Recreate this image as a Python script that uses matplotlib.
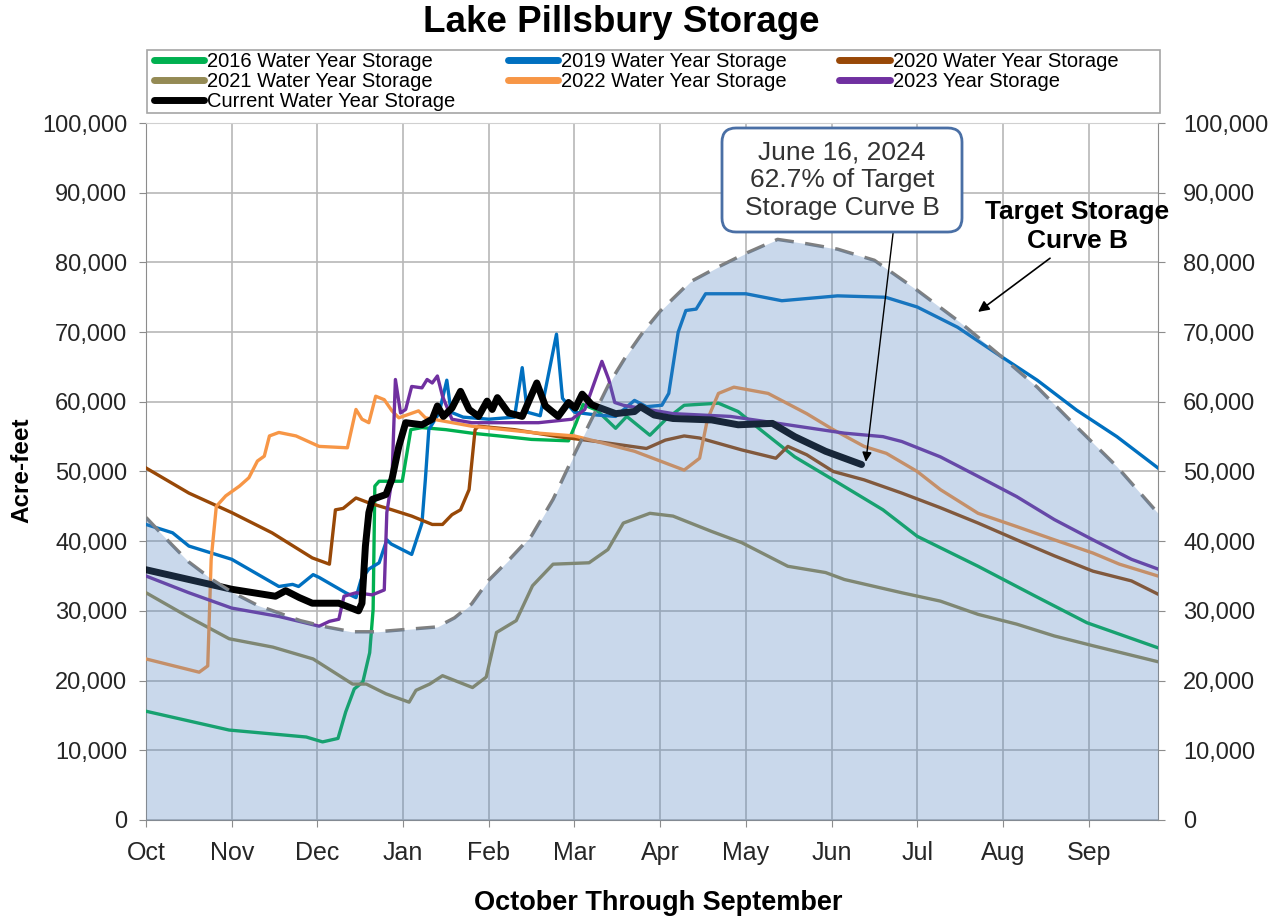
import matplotlib
matplotlib.use('Agg')
import matplotlib.pyplot as plt
from matplotlib.ticker import FuncFormatter, MultipleLocator
from matplotlib.patches import FancyBboxPatch, Rectangle

plt.rcParams['font.family'] = ['Liberation Sans', 'DejaVu Sans']

# x = months since Oct 1 (month ticks are evenly spaced), y = thousands of acre-feet
months = ['Oct', 'Nov', 'Dec', 'Jan', 'Feb', 'Mar', 'Apr', 'May', 'Jun', 'Jul', 'Aug', 'Sep']

target_x = [0, 0.3, 0.5, 0.77, 1.0, 1.3, 1.55, 1.8, 2.1, 2.4, 2.7, 3.0, 3.4, 3.6, 3.8, 4.0,
            4.25, 4.5, 4.75, 5.0, 5.2, 5.4, 5.6, 5.8, 6.0, 6.35, 6.67, 7.0, 7.37, 7.7, 8.07,
            8.5, 9.0, 9.5, 10.0, 10.4, 10.86, 11.33, 11.81]
target_y = [43.4, 39.5, 37.0, 34.5, 32.7, 30.8, 29.7, 28.6, 27.7, 27.0, 27.0, 27.3, 27.7, 29.0,
            31.0, 34.4, 37.5, 40.8, 46.0, 52.5, 57.5, 62.5, 66.5, 70.0, 73.0, 77.2, 79.3, 81.3,
            83.3, 82.7, 81.9, 80.3, 76.0, 71.4, 66.3, 62.1, 56.4, 50.7, 44.0]

wy2016_x = [0, 0.97, 1.87, 2.06, 2.24, 2.33, 2.43, 2.53, 2.61, 2.65, 2.67, 2.72, 2.99, 3.09,
            3.22, 3.5, 3.8, 4.2, 4.5, 4.93, 5.02, 5.1, 5.26, 5.48, 5.61, 5.88, 6.06, 6.28, 6.68,
            6.91, 7.17, 7.57, 8.02, 8.6, 9.0, 9.71, 10.38, 10.98, 11.81]
wy2016_y = [15.6, 12.9, 11.9, 11.2, 11.7, 15.5, 18.8, 19.8, 24.0, 30.2, 47.9, 48.6, 48.6, 56.0,
            56.3, 56.0, 55.5, 55.0, 54.6, 54.4, 57.0, 59.6, 58.8, 56.2, 57.9, 55.2, 57.4, 59.5,
            59.8, 58.6, 56.0, 52.1, 48.8, 44.5, 40.7, 36.4, 32.1, 28.3, 24.7]

wy2019_x = [0, 0.31, 0.5, 1.0, 1.55, 1.71, 1.78, 1.95, 2.02, 2.33, 2.45, 2.51, 2.6, 2.72, 2.81,
            2.86, 3.1, 3.22, 3.26, 3.3, 3.42, 3.51, 3.56, 3.7, 4.0, 4.3, 4.39, 4.45, 4.6, 4.79,
            4.86, 5.0, 5.26, 5.48, 5.7, 5.84, 6.02, 6.1, 6.21, 6.3, 6.42, 6.53, 7.0, 7.42, 8.07,
            8.63, 9.0, 9.47, 9.93, 10.4, 10.86, 11.33, 11.81]
wy2019_y = [42.4, 41.2, 39.3, 37.4, 33.5, 33.8, 33.5, 35.2, 34.8, 32.6, 31.9, 34.5, 36.0, 36.9,
            40.2, 39.6, 38.1, 42.6, 48.9, 56.0, 58.4, 63.1, 58.5, 57.8, 57.5, 57.8, 64.9, 58.5,
            58.0, 69.7, 60.5, 58.5, 58.1, 57.9, 60.2, 59.3, 59.5, 61.2, 70.0, 73.1, 73.3, 75.5,
            75.5, 74.5, 75.2, 75.0, 73.6, 70.7, 66.9, 63.1, 58.8, 55.0, 50.5]

wy2020_x = [0, 0.5, 1.0, 1.47, 1.94, 2.14, 2.21, 2.3, 2.45, 2.6, 2.87, 3.1, 3.34, 3.46, 3.57,
            3.67, 3.77, 3.84, 3.88, 4.3, 4.81, 5.26, 5.84, 6.06, 6.28, 6.46, 6.95, 7.35, 7.49,
            7.71, 8.02, 8.38, 8.82, 9.27, 9.71, 10.16, 10.6, 11.05, 11.5, 11.81]
wy2020_y = [50.5, 46.9, 44.1, 41.2, 37.6, 36.7, 44.5, 44.7, 46.2, 45.5, 44.5, 43.6, 42.4, 42.4,
            43.8, 44.5, 47.4, 56.0, 56.5, 56.0, 55.0, 54.3, 53.3, 54.5, 55.1, 54.8, 53.1, 51.9,
            53.6, 52.4, 50.0, 48.8, 46.9, 44.8, 42.6, 40.2, 37.9, 35.7, 34.3, 32.4]

wy2021_x = [0, 0.47, 0.97, 1.48, 1.95, 2.41, 2.57, 2.8, 3.07, 3.15, 3.31, 3.46, 3.81, 3.97,
            4.09, 4.32, 4.51, 4.75, 5.17, 5.39, 5.57, 5.88, 6.15, 6.6, 6.95, 7.49, 7.93, 8.15,
            8.82, 9.27, 9.71, 10.16, 10.6, 11.05, 11.81]
wy2021_y = [32.6, 29.3, 26.0, 24.8, 23.1, 19.5, 19.5, 18.1, 16.9, 18.6, 19.5, 20.7, 19.0, 20.5,
            26.9, 28.6, 33.6, 36.7, 36.9, 38.8, 42.6, 44.0, 43.6, 41.4, 39.8, 36.4, 35.5, 34.5,
            32.6, 31.4, 29.5, 28.1, 26.4, 25.0, 22.7]

wy2022_x = [0, 0.62, 0.72, 0.76, 0.82, 0.93, 1.09, 1.2, 1.3, 1.38, 1.44, 1.55, 1.75, 2.02, 2.35,
            2.45, 2.52, 2.6, 2.68, 2.78, 2.87, 2.95, 3.18, 3.26, 3.8, 4.58, 5.0, 5.26, 5.7, 6.28,
            6.46, 6.55, 6.68, 6.86, 7.26, 7.71, 8.02, 8.38, 8.64, 9.0, 9.27, 9.71, 10.16, 10.6,
            11.05, 11.36, 11.81]
wy2022_y = [23.1, 21.2, 22.1, 37.4, 45.0, 46.5, 47.9, 49.1, 51.5, 52.2, 55.1, 55.6, 55.1, 53.6,
            53.4, 58.9, 57.5, 57.0, 60.8, 60.3, 58.7, 57.7, 58.7, 57.7, 56.5, 55.5, 55.1, 54.3,
            52.9, 50.2, 51.9, 57.4, 61.2, 62.1, 61.2, 58.3, 56.0, 53.6, 52.6, 50.0, 47.4, 44.0,
            42.1, 40.2, 38.3, 36.7, 35.0]

wy2023_x = [0, 0.5, 1.0, 1.55, 2.02, 2.14, 2.25, 2.31, 2.45, 2.64, 2.78, 2.81, 2.87, 2.91, 2.97,
            3.03, 3.1, 3.22, 3.28, 3.34, 3.4, 3.46, 3.57, 3.8, 4.58, 4.97, 5.12, 5.32, 5.4, 5.47,
            5.57, 6.15, 6.82, 7.49, 8.15, 8.6, 8.82, 9.27, 9.71, 10.16, 10.6, 11.05, 11.5, 11.81]
wy2023_y = [35.0, 32.6, 30.4, 29.2, 27.8, 28.5, 28.8, 32.1, 32.6, 32.3, 33.0, 44.1, 48.9, 63.2,
            58.4, 58.9, 62.2, 62.0, 63.2, 62.7, 63.7, 60.8, 57.5, 57.0, 57.0, 57.5, 58.9, 65.8,
            63.2, 59.9, 59.5, 58.3, 57.9, 56.7, 55.5, 55.0, 54.3, 52.1, 49.3, 46.4, 43.1, 40.2,
            37.4, 36.0]

current_x = [0, 0.5, 1.0, 1.51, 1.63, 1.79, 1.94, 2.25, 2.48, 2.52, 2.56, 2.6, 2.64, 2.8, 2.87,
             2.95, 3.03, 3.22, 3.34, 3.4, 3.47, 3.57, 3.67, 3.77, 3.88, 3.98, 4.04, 4.1, 4.23,
             4.39, 4.56, 4.66, 4.81, 4.93, 5.01, 5.09, 5.2, 5.26, 5.48, 5.7, 5.77, 5.93, 6.15,
             6.6, 6.91, 7.31, 7.57, 7.93, 8.35]
current_y = [35.9, 34.5, 33.1, 32.1, 32.9, 31.9, 31.1, 31.1, 30.0, 31.1, 39.3, 44.1, 46.0, 46.7,
             48.9, 53.6, 57.0, 56.7, 57.5, 59.4, 57.9, 59.1, 61.5, 58.9, 57.9, 60.1, 58.9, 60.6,
             58.4, 57.9, 62.7, 59.4, 57.9, 59.9, 59.1, 61.1, 59.6, 59.3, 58.3, 58.6, 59.3, 58.1,
             57.6, 57.4, 56.7, 56.9, 55.0, 52.9, 51.0]


def k(vals):
    return [v * 1000 for v in vals]


fig = plt.figure(figsize=(12.8, 9.18), dpi=100)
ax = fig.add_axes([0.1141, 0.1068, 0.7906, 0.7592])

ax.plot(wy2016_x, k(wy2016_y), color='#00b050', lw=2.4, label='2016 Water Year Storage', zorder=3)
ax.plot(wy2019_x, k(wy2019_y), color='#0070c0', lw=2.4, label='2019 Water Year Storage', zorder=3)
ax.plot(wy2020_x, k(wy2020_y), color='#984807', lw=2.4, label='2020 Water Year Storage', zorder=3)
ax.plot(wy2021_x, k(wy2021_y), color='#948a54', lw=2.4, label='2021 Water Year Storage', zorder=3)
ax.plot(wy2022_x, k(wy2022_y), color='#f79646', lw=2.4, label='2022 Water Year Storage', zorder=3)
ax.plot(wy2023_x, k(wy2023_y), color='#7030a0', lw=2.4, label='2023 Year Storage', zorder=3)
ax.plot(current_x, k(current_y), color='black', lw=5, label='Current Water Year Storage',
        zorder=4, solid_capstyle='round')

# target curve: dashed edge and translucent fill drawn over the storage lines
ax.plot(target_x, k(target_y), color='#808080', lw=2.5, dashes=(5.5, 3.3), zorder=5)
ax.fill_between(target_x, 0, k(target_y), color='#4f81bd', alpha=0.3, lw=0, zorder=6)

ax.set_xlim(0, 11.81)
ax.set_ylim(0, 100000)
ax.set_xticks(range(12))
ax.set_xticklabels(months)
ax.yaxis.set_major_locator(MultipleLocator(10000))
fmt = FuncFormatter(lambda v, p: f'{int(v):,}')
ax.yaxis.set_major_formatter(fmt)
ax.grid(True, color='#b8b8b8', lw=1.2, zorder=0)
ax.set_axisbelow(True)
for s in ax.spines.values():
    s.set_color('#8c8c8c')
ax.spines['top'].set_color('#d0d0d0')
ax.tick_params(axis='both', colors='#8c8c8c', labelcolor='#262626', length=5, direction='out')
ax.tick_params(axis='x', labelsize=18, pad=10)
ax.tick_params(axis='y', labelsize=17, pad=8.5)

ax2 = ax.twinx()
ax2.set_ylim(0, 100000)
ax2.yaxis.set_major_locator(MultipleLocator(10000))
ax2.yaxis.set_major_formatter(fmt)
ax2.tick_params(axis='y', labelsize=17, colors='#8c8c8c', labelcolor='#262626',
                length=5, pad=13)
for s in ax2.spines.values():
    s.set_visible(False)

fig.text(0.485, 0.976, 'Lake Pillsbury Storage', ha='center', va='center',
         fontsize=26.5, fontweight='bold')
fig.text(0.017, 0.488, 'Acre-feet', rotation=90, ha='center', va='center',
         fontsize=17.5, fontweight='bold')
fig.text(0.514, 0.0163, 'October Through September', ha='center', va='center',
         fontsize=19.5, fontweight='bold')

# legend frame spans the plot width; entries laid out in three columns inside it
fig.add_artist(Rectangle((0.1148, 0.8769), 0.7914, 0.0686, transform=fig.transFigure,
                         fill=False, ec='#a6a6a6', lw=1.2))
handles, labels = ax.get_legend_handles_labels()
order = [0, 3, 6, 1, 4, 2, 5]
leg = fig.legend([handles[i] for i in order], [labels[i] for i in order],
                 loc='upper left', bbox_to_anchor=(154 / 1280, 1 - 52 / 918),
                 ncol=3, fontsize=14.5, frameon=False, borderpad=0, labelspacing=0.05,
                 handlelength=2.5, handletextpad=0.15, columnspacing=2.6, borderaxespad=0)
for line in leg.get_lines():
    line.set_linewidth(5)
    line.set_solid_capstyle('round')

# callout box for the current value
fig.add_artist(FancyBboxPatch((7.22, 6.86), 2.40, 1.04, transform=fig.dpi_scale_trans,
                              boxstyle='round,pad=0,rounding_size=0.14',
                              fc='white', ec='#4a6fa5', lw=2, zorder=10))
fig.text(842 / 1280, 1 - 180 / 918, 'June 16, 2024\n62.7% of Target\nStorage Curve B',
         ha='center', va='center', fontsize=19, color='#333333', linespacing=1.2, zorder=11)
ax.annotate('', xy=(8.4, 51400), xytext=(8.72, 84400), zorder=10, annotation_clip=False,
            arrowprops=dict(arrowstyle='-|>', color='black', lw=1, mutation_scale=14,
                            shrinkA=0, shrinkB=0))

ax.text(10.87, 85100, 'Target Storage\nCurve B', ha='center', va='center', fontsize=19,
        fontweight='bold', linespacing=1.25, zorder=10)
ax.annotate('', xy=(9.71, 72900), xytext=(10.55, 80600), zorder=10, annotation_clip=False,
            arrowprops=dict(arrowstyle='-|>', color='black', lw=1.2, mutation_scale=16,
                            shrinkA=0, shrinkB=0))

fig.savefig('out.png', dpi=100)
